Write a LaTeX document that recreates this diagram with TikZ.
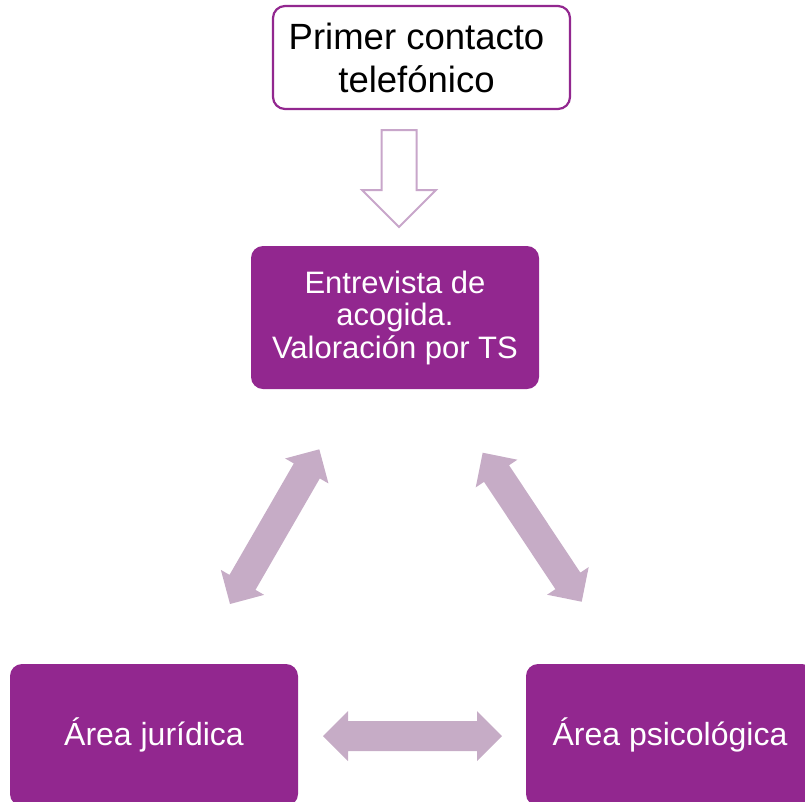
\documentclass[tikz,border=0pt]{standalone}
\usepackage{fontspec}
\setmainfont{Liberation Sans}
\usetikzlibrary{calc}
\definecolor{boxpurple}{RGB}{146,39,143}
\definecolor{arrowlilac}{RGB}{198,172,198}
\definecolor{outlinelilac}{RGB}{200,166,202}
\tikzset{
  purplebox/.style={draw=none, fill=boxpurple, rounded corners=12pt, text=white,
    align=center, inner sep=0pt},
  topbox/.style={draw=boxpurple, line width=2.2pt, fill=white, rounded corners=12pt,
    text=black, align=center, inner sep=0pt},
  blockarrow/.style={fill=arrowlilac, draw=none},
  hollowarrow/.style={draw=outlinelilac, line width=2pt, fill=white, line join=miter}
}
\newcommand{\dblblockarrow}[3]{%
  \coordinate (#3h1) at ($(#1)!25pt!(#2)$);
  \coordinate (#3h2) at ($(#2)!25pt!(#1)$);
  \fill[blockarrow] (#1) -- ($(#3h1)!25pt!90:(#2)$) -- ($(#3h1)!15pt!90:(#2)$)
    -- ($(#3h2)!15pt!-90:(#1)$) -- ($(#3h2)!25pt!-90:(#1)$) -- (#2)
    -- ($(#3h2)!25pt!90:(#1)$) -- ($(#3h2)!15pt!90:(#1)$)
    -- ($(#3h1)!15pt!-90:(#2)$) -- ($(#3h1)!25pt!-90:(#2)$) -- cycle;
}
\begin{document}
\begin{tikzpicture}[x=1pt,y=-1pt]
\useasboundingbox (0,0) rectangle (805,801);
\clip (0,0) rectangle (805,801);

% boxes
\node[topbox, minimum width=297pt, minimum height=103pt,
  font=\fontsize{36.5}{43}\selectfont] (first) at (421.5,57.5)
  {Primer contacto\hspace*{10pt}\\telefónico\hspace*{10pt}};
\node[purplebox, minimum width=288pt, minimum height=143pt,
  font=\fontsize{31}{32.5}\selectfont] (interview) at (395,317.5)
  {Entrevista de\\acogida.\\Valoración por TS};
\node[purplebox, minimum width=288pt, minimum height=142pt,
  font=\fontsize{32}{38}\selectfont] (legal) at (154,735) {Área jurídica};
\node[purplebox, minimum width=288pt, minimum height=142pt,
  font=\fontsize{32}{38}\selectfont] (psych) at (670,735) {Área psicológica};

% hollow down arrow from first box to interview box
\coordinate (tail) at (399,130);
\coordinate (tip) at (399,227);
\draw[hollowarrow] ($(tail)+(-17.5,0)$) -- ($(tail)+(17.5,0)$) -- ($(tip)+(17.5,-37)$)
  -- ($(tip)+(37,-37)$) -- (tip) -- ($(tip)+(-37,-37)$) -- ($(tip)+(-17.5,-37)$) -- cycle;

% double block arrows
\coordinate (lu) at (319.3,449.3);
\coordinate (ll) at (230,604);
\coordinate (ru) at (482.7,452.7);
\coordinate (rl) at (581.7,601.7);
\coordinate (hl) at (323,736);
\coordinate (hr) at (502,736);
\dblblockarrow{lu}{ll}{A}
\dblblockarrow{ru}{rl}{B}
\dblblockarrow{hl}{hr}{C}
\end{tikzpicture}
\end{document}
